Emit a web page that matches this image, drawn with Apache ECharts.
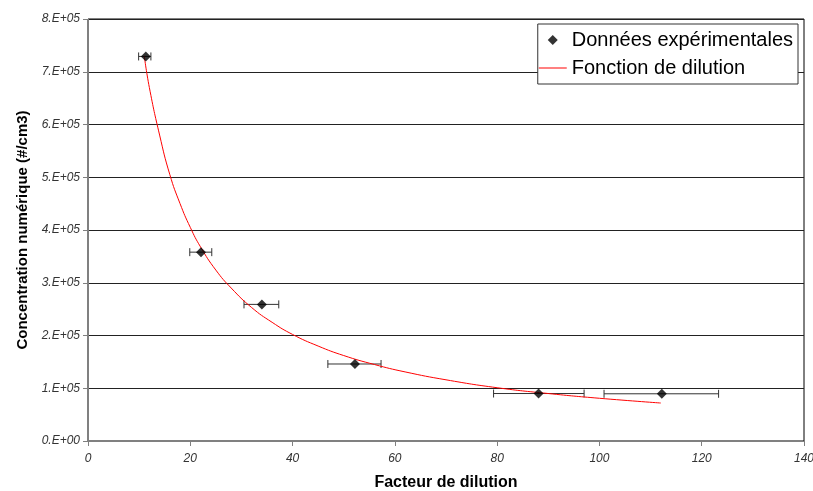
<!DOCTYPE html>
<html>
<head>
<meta charset="utf-8">
<script src="https://cdn.jsdelivr.net/npm/echarts@6/dist/echarts.min.js"></script>
<style>
  html, body { margin: 0; padding: 0; background: #fff; overflow: hidden; }
  #chart { width: 813px; height: 491px; }
</style>
</head>
<body>
<div id="chart"></div>
<script>
// measured points: dilution factor, concentration, x error range
const dilution = [11.3, 22.1, 34.0, 52.2, 88.1, 112.2];
const concentration = [7.29e5, 3.58e5, 2.59e5, 1.46e5, 0.90e5, 0.895e5];
const errLow = [9.9, 19.9, 30.5, 46.9, 79.3, 100.9];
const errHigh = [12.3, 24.2, 37.3, 57.3, 97.0, 123.3];

// fitted dilution curve
const curveX = [11, 12, 14, 16, 18, 20, 22, 25, 28, 32, 36, 40, 45, 50, 56, 62, 70, 80, 90, 100, 112];
const curveY = [7.3e5, 6.7e5, 5.8e5, 5.05e5, 4.5e5, 4.05e5, 3.68e5, 3.24e5, 2.9e5, 2.53e5, 2.25e5,
  2.02e5, 1.8e5, 1.62e5, 1.45e5, 1.31e5, 1.16e5, 1.01e5, 0.9e5, 0.81e5, 0.72e5];

const chart = echarts.init(document.getElementById('chart'));

const labelFont = { fontFamily: 'Liberation Sans, Arial', fontStyle: 'italic', fontSize: 12, color: '#333' };

chart.setOption({
  animation: false,
  textStyle: { fontFamily: 'Liberation Sans, Arial' },
  grid: {
    left: 88, right: 9, top: 19, bottom: 50,
    outerBoundsMode: 'none',
    show: true, borderColor: '#000', borderWidth: 1
  },
  legend: {
    orient: 'vertical',
    right: 15,
    top: 24,
    backgroundColor: '#fff',
    borderColor: '#333',
    borderWidth: 1,
    padding: [6, 5, 6, 1],
    itemGap: 8,
    itemWidth: 28,
    itemHeight: 10,
    textStyle: { fontSize: 20, color: '#000', fontFamily: 'Liberation Sans, Arial' },
    data: [
      { name: 'Données expérimentales', icon: 'path://M0,5L0,5M14,0L19,5L14,10L9,5ZM28,5L28,5', itemStyle: { color: '#000' } },
      { name: 'Fonction de dilution', icon: 'path://M0,0H28V1H0Z', itemStyle: { color: '#ff0000' } }
    ]
  },
  xAxis: {
    type: 'value',
    min: 0,
    max: 140,
    interval: 20,
    name: 'Facteur de dilution',
    nameLocation: 'middle',
    nameGap: 34,
    nameTextStyle: { fontWeight: 'bold', fontSize: 16, color: '#000' },
    axisLine: { onZero: false, lineStyle: { color: '#808080' } },
    axisTick: { show: true, length: 5, lineStyle: { color: '#808080' } },
    axisLabel: Object.assign({ margin: 12 }, labelFont),
    splitLine: { show: false }
  },
  yAxis: {
    type: 'value',
    min: 0,
    max: 8e5,
    interval: 1e5,
    name: 'Concentration numérique (#/cm3)',
    nameLocation: 'middle',
    nameGap: 58,
    nameTextStyle: { fontWeight: 'bold', fontSize: 15, color: '#000' },
    axisLine: { show: true, lineStyle: { color: '#808080' } },
    axisTick: { show: true, length: 5, lineStyle: { color: '#808080' } },
    axisLabel: Object.assign({
      margin: 8,
      formatter: (v) => v === 0 ? '0.E+00' : (v / 1e5) + '.E+05'
    }, labelFont),
    splitLine: { show: true, lineStyle: { color: '#222', width: 1 } }
  },
  series: [
    {
      name: 'Fonction de dilution',
      type: 'line',
      data: curveX.map((x, i) => [x, curveY[i]]),
      smooth: true,
      symbol: 'none',
      lineStyle: { color: '#ff0000', width: 1 },
      itemStyle: { color: '#ff0000' },
      z: 3
    },
    {
      name: 'errors',
      type: 'custom',
      data: dilution.map((x, i) => [x, concentration[i], errLow[i], errHigh[i]]),
      renderItem: (params, api) => {
        const y = api.value(1);
        const a = api.coord([api.value(2), y]);
        const b = api.coord([api.value(3), y]);
        const cap = 4;
        const st = { stroke: '#333', lineWidth: 1 };
        return {
          type: 'group',
          children: [
            { type: 'line', shape: { x1: a[0], y1: a[1], x2: b[0], y2: b[1] }, style: st },
            { type: 'line', shape: { x1: a[0], y1: a[1] - cap, x2: a[0], y2: a[1] + cap }, style: st },
            { type: 'line', shape: { x1: b[0], y1: b[1] - cap, x2: b[0], y2: b[1] + cap }, style: st }
          ]
        };
      },
      z: 2
    },
    {
      name: 'Données expérimentales',
      type: 'scatter',
      data: dilution.map((x, i) => [x, concentration[i]]),
      symbol: 'diamond',
      symbolSize: 10,
      itemStyle: { color: '#000' },
      z: 4
    }
  ]
});
</script>
</body>
</html>
